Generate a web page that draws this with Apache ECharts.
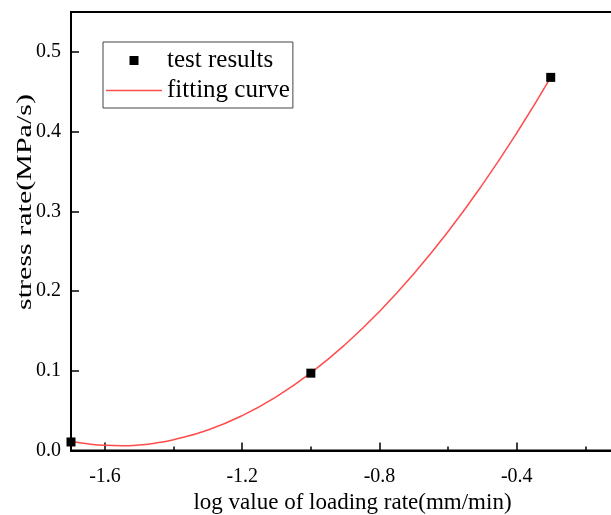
<!DOCTYPE html>
<html>
<head>
<meta charset="utf-8">
<script src="https://cdn.jsdelivr.net/npm/echarts@6/dist/echarts.min.js"></script>
<style>
html,body{margin:0;padding:0;background:#fff;overflow:hidden;}
#chart{width:611px;height:515px;}
</style>
</head>
<body>
<div id="chart"></div>
<script>
// Test results (log loading rate, stress rate)
const testX = [-1.699, -1.0, -0.301];
const testY = [0.0107, 0.097, 0.468];
// Fitting curve
const fitX = [-1.699, -1.65, -1.6, -1.55, -1.5, -1.45, -1.4, -1.3, -1.2, -1.1, -1.0, -0.9, -0.8, -0.7, -0.6, -0.5, -0.4, -0.301];
const fitY = [0.0116, 0.0084, 0.0065, 0.0060, 0.0070, 0.0095, 0.0135, 0.0257, 0.0438, 0.0677, 0.0974, 0.1330, 0.1744, 0.2216, 0.2746, 0.3335, 0.3982, 0.4680];
// Tick labels
const xMajorTicks = [-1.6, -1.2, -0.8, -0.4];
const xMinorTicks = [-1.4, -1.0, -0.6, -0.2];
const yMajorTicks = [0, 0.1, 0.2, 0.3, 0.4, 0.5];
const yMinorTicks = [0.05, 0.15, 0.25, 0.35, 0.45];
const seriesNames = ['test results', 'fitting curve'];
const xName = 'log value of loading rate(mm/min)';
const yName = 'stress rate(MPa/s)';

const FONT = 'Liberation Serif';
const chart = echarts.init(document.getElementById('chart'), null, {renderer: 'canvas'});

const scatterData = testX.map((x, i) => [x, testY[i]]);
const fitData = fitX.map((x, i) => [x, fitY[i]]);

const X_MIN = -1.699, X_MAX = 0, Y_MIN = 0, Y_MAX = 0.55;

const option = {
  backgroundColor: '#fff',
  animation: false,
  grid: {
    left: 71, top: 12, right: -43, bottom: 64.5,
    containLabel: false, outerBoundsMode: 'none',
    show: true, borderColor: '#000', borderWidth: 2, backgroundColor: 'transparent'
  },
  legend: {
    orient: 'vertical',
    left: 103, top: 42,
    data: [
      {name: seriesNames[0], icon: 'path://M0,0L10,0L10,10L0,10Z'},
      {name: seriesNames[1], icon: 'path://M0,0L112,0L112,2.6L0,2.6Z'}
    ],
    itemWidth: 56, itemHeight: 9, itemGap: 5, itemTextGap: 9,
    symbolKeepAspect: true,
    padding: [6, 3, 5, 3],
    borderColor: '#444', borderWidth: 1,
    textStyle: {fontFamily: FONT, fontSize: 25, color: '#000'}
  },
  graphic: [
    {
      type: 'text', x: 26, y: 202, rotation: Math.PI / 2,
      scaleX: 1.5, scaleY: 1,
      style: {text: yName, fontFamily: FONT, fontSize: 20, fill: '#000', align: 'center', verticalAlign: 'middle'}
    }
  ],
  xAxis: [
    {
      type: 'value', min: X_MIN, max: X_MAX, position: 'bottom',
      axisLine: {show: true, onZero: false, lineStyle: {color: '#000', width: 2}},
      axisTick: {show: true, inside: true, length: 8, lineStyle: {color: '#000', width: 1.5}, customValues: xMajorTicks},
      axisLabel: {show: true, customValues: xMajorTicks, formatter: v => v.toFixed(1), margin: 16,
        fontFamily: FONT, fontSize: 20, color: '#000'},
      splitLine: {show: false},
      name: xName, nameLocation: 'middle', nameGap: 40,
      nameTextStyle: {fontFamily: FONT, fontSize: 23, color: '#000', padding: [0, 20, 0, 0]}
    },
    {
      type: 'value', min: X_MIN, max: X_MAX, position: 'bottom',
      axisLine: {show: false},
      axisTick: {show: true, inside: true, length: 4, lineStyle: {color: '#000', width: 1.5}, customValues: xMinorTicks},
      axisLabel: {show: false},
      splitLine: {show: false}
    }
  ],
  yAxis: [
    {
      type: 'value', min: Y_MIN, max: Y_MAX, position: 'left',
      axisLine: {show: true, onZero: false, lineStyle: {color: '#000', width: 2}},
      axisTick: {show: true, inside: true, length: 8, lineStyle: {color: '#000', width: 1.5}, customValues: yMajorTicks},
      axisLabel: {show: true, customValues: yMajorTicks, formatter: v => v.toFixed(1), margin: 10,
        fontFamily: FONT, fontSize: 20, color: '#000'},
      splitLine: {show: false}
    },
    {
      type: 'value', min: Y_MIN, max: Y_MAX, position: 'left',
      axisLine: {show: false},
      axisTick: {show: true, inside: true, length: 4, lineStyle: {color: '#000', width: 1.5}, customValues: yMinorTicks},
      axisLabel: {show: false},
      splitLine: {show: false}
    }
  ],
  series: [
    {
      name: seriesNames[0], type: 'scatter', xAxisIndex: 0, yAxisIndex: 0,
      data: scatterData, symbol: 'rect', symbolSize: 9,
      itemStyle: {color: '#000', opacity: 1}, z: 5
    },
    {
      name: seriesNames[1], type: 'line', xAxisIndex: 0, yAxisIndex: 0,
      data: fitData, smooth: true, symbol: 'none',
      lineStyle: {color: '#ff4d4d', width: 1.5}, itemStyle: {color: '#ff4d4d'}, z: 3
    }
  ]
};
chart.setOption(option);
</script>
</body>
</html>
